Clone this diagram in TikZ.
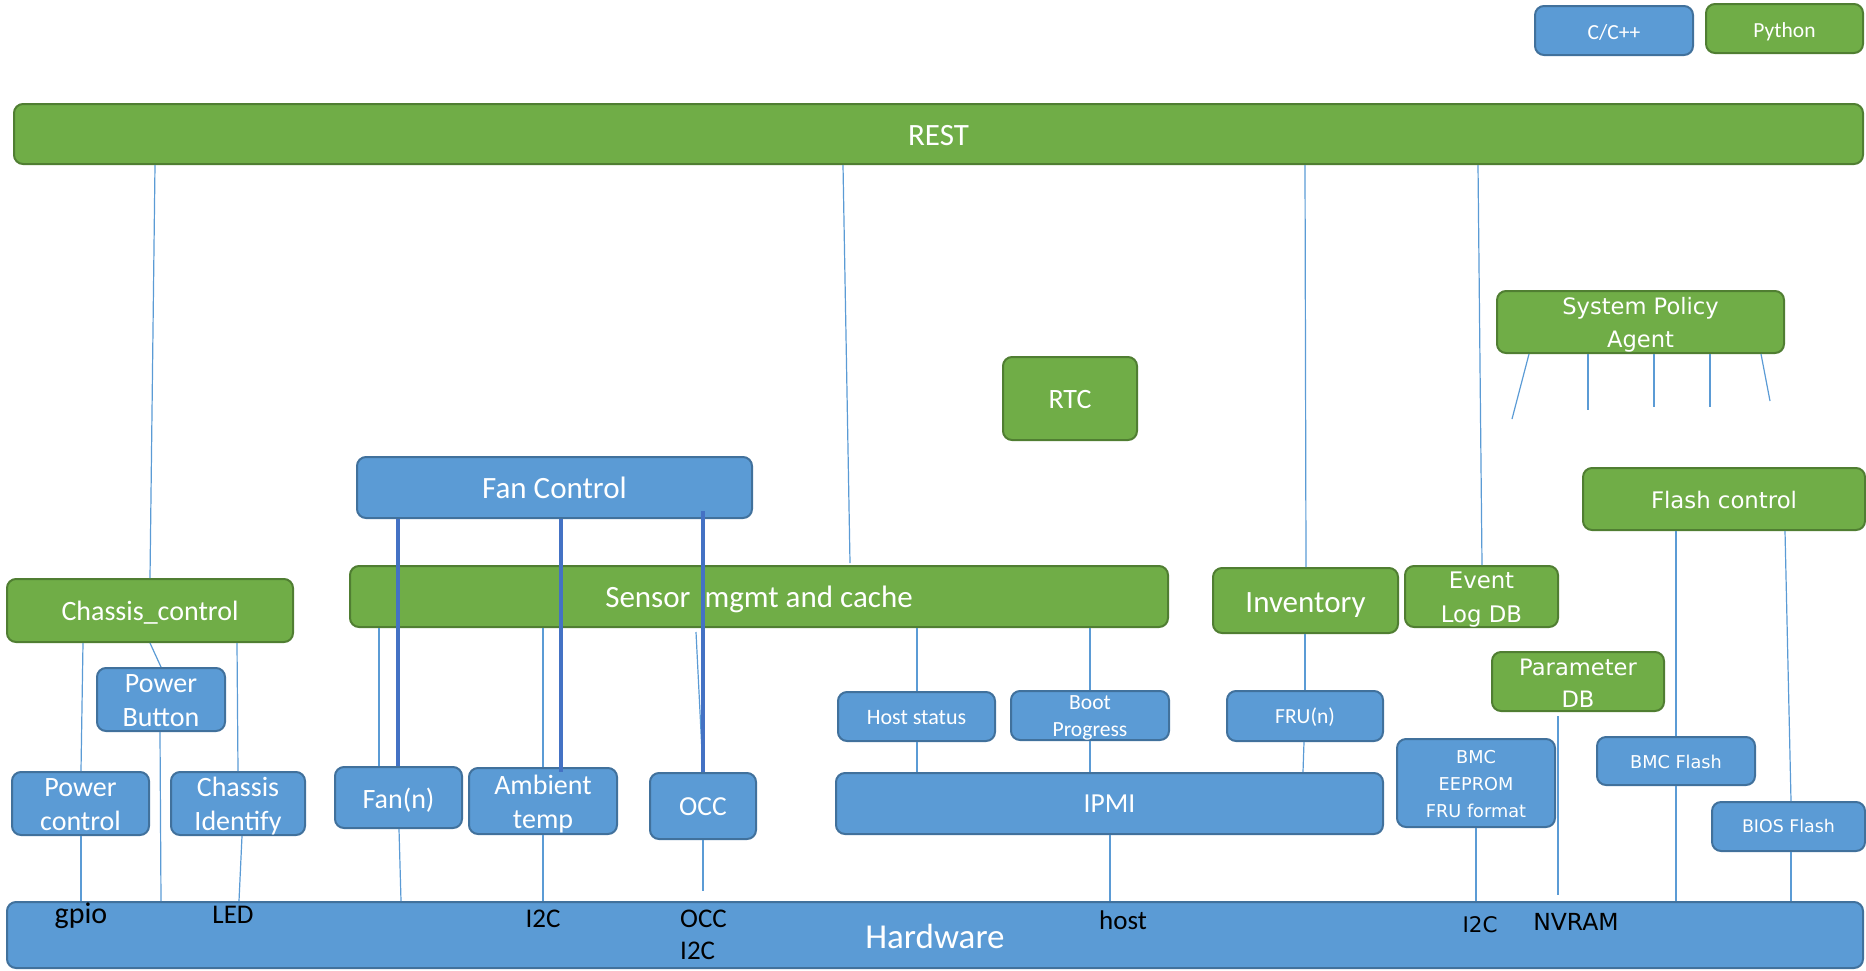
\documentclass[tikz,border=0pt]{standalone}
\usepackage{fontspec}
\setmainfont{Carlito}
\newfontfamily\vfont{DejaVu Sans}
\definecolor{bfill}{HTML}{5B9BD5}
\definecolor{bdraw}{HTML}{41719C}
\definecolor{gfill}{HTML}{70AD47}
\definecolor{gdraw}{HTML}{507E32}
\definecolor{thickc}{HTML}{4472C4}
\newcommand\fsz[2]{\fontsize{#1}{#2}\selectfont}
\tikzset{
 box/.style={rounded corners=9pt, line width=2pt, inner sep=0pt},
 bl/.style={box, fill=bfill, draw=bdraw},
 gr/.style={box, fill=gfill, draw=gdraw},
 tl/.style={text=white, align=center, inner sep=0pt},
 wh/.style 2 args={minimum width=#1pt, minimum height=#2pt},
 conn/.style={draw=bfill, line width=1.2pt},
 thk/.style={draw=thickc, line width=3.2pt},
 hwl/.style={text=black, anchor=base, inner sep=0pt},
}
\begin{document}
\begin{tikzpicture}[x=1pt,y=-1pt]
\useasboundingbox (0,0) rectangle (1866,970);
% legend
\node[bl, wh={158}{49}, label={[tl, yshift=-1.8pt, font=\fsz{21.5}{26}]center:C/C++}] (cpp) at (1614,30.5) {};
\node[gr, wh={157}{49}, label={[tl, yshift=-3pt, font=\fsz{21.5}{26}]center:Python}] (py) at (1784.5,28.5) {};
% top
\node[gr, wh={1849}{60}, label={[tl, yshift=-1.1pt, font=\fsz{31}{37}]center:REST}] (rest) at (938.5,134) {};
\node[gr, wh={134}{83}, label={[tl, yshift=-0.6pt, font=\fsz{28}{34}]center:RTC}] (rtc) at (1070,398.5) {};
\node[gr, wh={287}{62}, label={[tl, yshift=-3pt, font=\vfont\fsz{22.6}{33}]center:{System Policy\\Agent}}] (spa) at (1640.5,322) {};
\node[gr, wh={282}{62}, label={[tl, yshift=-0.6pt, font=\vfont\fsz{22.8}{33}]center:Flash control}] (flash) at (1724,499) {};
\node[gr, wh={153}{61}, label={[tl, yshift=-3pt, font=\vfont\fsz{22.8}{34}]center:{Event\\Log DB}}] (evlog) at (1481.5,596.5) {};
\node[gr, wh={185}{65}, label={[tl, yshift=-5pt, font=\fsz{31}{37}]center:Inventory}] (inv) at (1305.5,600.5) {};
\node[gr, wh={818}{61}, label={[tl, yshift=-3.3pt, font=\fsz{31}{37}]center:Sensor~~mgmt and cache}] (sensor) at (759,596.5) {};
\node[bl, wh={395}{61}, label={[tl, font=\fsz{31}{37}]center:Fan Control}] (fanctl) at (554.5,487.5) {};
\node[gr, wh={286}{63}, label={[tl, yshift=-1.8pt, font=\fsz{28}{34}]center:Chassis\_control}] (chassis) at (150,610.5) {};
\node[bl, wh={128}{63}, label={[tl, yshift=-1pt, font=\fsz{28}{34}]center:{Power\\Button}}] (pbtn) at (161,699.5) {};
\node[bl, wh={137}{63}, label={[tl, yshift=-1pt, font=\fsz{28}{34}]center:{Power\\control}}] (pctl) at (80.5,803.5) {};
\node[bl, wh={134}{63}, label={[tl, yshift=-3pt, font=\fsz{28}{34}]center:{Chassis\\Identify}}] (cid) at (238,803.5) {};
\node[bl, wh={127}{61}, label={[tl, yshift=-2.3pt, font=\fsz{28}{34}]center:Fan(n)}] (fan) at (398.5,797.5) {};
\node[bl, wh={148}{66}, label={[tl, yshift=-3pt, font=\fsz{28}{34}]center:{Ambient\\temp}}] (amb) at (543,801) {};
\node[bl, wh={106}{66}, label={[tl, yshift=-1.1pt, font=\fsz{27.5}{34}]center:OCC}] (occ) at (703,806) {};
\node[bl, wh={157}{49}, label={[tl, yshift=-0.6pt, font=\fsz{22}{27}]center:Host status}] (host) at (916.5,716.5) {};
\node[bl, wh={158}{49}, label={[tl, yshift=-2pt, font=\fsz{21.6}{27}]center:{Boot\\Progress}}] (boot) at (1090,715.5) {};
\node[bl, wh={156}{50}, label={[tl, yshift=-1.5pt, font=\fsz{21.5}{27}]center:FRU(n)}] (fru) at (1305,716) {};
\node[bl, wh={547}{61}, label={[tl, yshift=-0.6pt, font=\fsz{27.5}{34}]center:IPMI}] (ipmi) at (1109.5,803.5) {};
\node[bl, wh={1856}{66}, label={[tl, yshift=-1.4pt, font=\fsz{35}{42}]center:Hardware}] (hw) at (935,935) {};
\node[gr, wh={172}{59}, label={[tl, yshift=-1.5pt, font=\vfont\fsz{22.6}{32}]center:{Parameter\\DB}}] (param) at (1578,681.5) {};
\node[bl, wh={158}{88}, label={[tl, yshift=-1pt, font=\vfont\fsz{17.7}{27}]center:{BMC\\EEPROM\\FRU format}}] (eeprom) at (1476,783) {};
\node[bl, wh={158}{48}, label={[tl, yshift=-0.6pt, font=\vfont\fsz{17.7}{22}]center:BMC Flash}] (bmcf) at (1676,761) {};
\node[bl, wh={153}{49}, label={[tl, yshift=0.6pt, font=\vfont\fsz{17.4}{22}]center:BIOS Flash}] (biosf) at (1788.5,826.5) {};
% hardware labels
\node[hwl, font=\fsz{30}{36}] (lgpio) at (81,923) {gpio};
\node[hwl, font=\fsz{27}{33}] (lled) at (233,923) {LED};
\node[hwl, font=\fsz{27}{33}] (li2ca) at (543,927) {I2C};
\node[hwl, anchor=base west, font=\fsz{27}{33}] (locc) at (680,927) {OCC};
\node[hwl, anchor=base west, font=\fsz{27}{33}] (li2cb) at (680,959) {I2C};
\node[hwl, font=\fsz{27}{33}] (lhost) at (1123,929) {host};
\node[hwl, font=\vfont\fsz{21.5}{26}] (li2cc) at (1480,932) {I2C};
\node[hwl, font=\vfont\fsz{23.5}{28}] (lnv) at (1576,930) {NVRAM};
% free ends
\coordinate (s1) at (1512,419);
\coordinate (s2) at (1588,410);
\coordinate (s3) at (1654,407);
\coordinate (s4) at (1710,407);
\coordinate (s5) at (1770,401);
\coordinate (occtop) at (696,632);
\coordinate (occbot) at (703,891);
\coordinate (partop) at (1558,716);
\coordinate (parbot) at (1558,895);
\coordinate (ambtop) at (561,772);
\coordinate (fcin) at (703,511);
% thin connectors
\draw[conn] (155,0 |- rest.south) -- (150,0 |- chassis.north);
\draw[conn] (843,0 |- rest.south) -- (850,563);
\draw[conn] (1305,0 |- rest.south) -- (1306,0 |- inv.north);
\draw[conn] (1478,0 |- rest.south) -- (1482,0 |- evlog.north);
\draw[conn] (83,0 |- chassis.south) -- (81,0 |- pctl.north);
\draw[conn] (150,0 |- chassis.south) -- (161,0 |- pbtn.north);
\draw[conn] (237,0 |- chassis.south) -- (238,0 |- cid.north);
\draw[conn] (81,0 |- pctl.south) -- (81,0 |- hw.north);
\draw[conn] (160,0 |- pbtn.south) -- (161,0 |- hw.north);
\draw[conn] (242,0 |- cid.south) -- (239,0 |- hw.north);
\draw[conn] (379,0 |- sensor.south) -- (379,0 |- fan.north);
\draw[conn] (399,0 |- fan.south) -- (401,0 |- hw.north);
\draw[conn] (543,0 |- sensor.south) -- (543,0 |- amb.north);
\draw[conn] (543,0 |- amb.south) -- (543,0 |- hw.north);
\draw[conn] (occtop) -- (703,0 |- occ.north);
\draw[conn] (703,0 |- occ.south) -- (occbot);
\draw[conn] (917,0 |- sensor.south) -- (917,0 |- host.north);
\draw[conn] (917,0 |- host.south) -- (917,0 |- ipmi.north);
\draw[conn] (1090,0 |- sensor.south) -- (1090,0 |- boot.north);
\draw[conn] (1090,0 |- boot.south) -- (1090,0 |- ipmi.north);
\draw[conn] (1305,0 |- inv.south) -- (1305,0 |- fru.north);
\draw[conn] (1304,0 |- fru.south) -- (1303,0 |- ipmi.north);
\draw[conn] (1110,0 |- ipmi.south) -- (1110,0 |- hw.north);
\draw[conn] (1476,0 |- eeprom.south) -- (1476,0 |- hw.north);
\draw[conn] (partop) -- (parbot);
\draw[conn] (1676,0 |- flash.south) -- (1676,0 |- bmcf.north);
\draw[conn] (1676,0 |- bmcf.south) -- (1676,0 |- hw.north);
\draw[conn] (1785,0 |- flash.south) -- (1791,0 |- biosf.north);
\draw[conn] (1791,0 |- biosf.south) -- (1791,0 |- hw.north);
\draw[conn] (1529,0 |- spa.south) -- (s1);
\draw[conn] (1588,0 |- spa.south) -- (s2);
\draw[conn] (1654,0 |- spa.south) -- (s3);
\draw[conn] (1710,0 |- spa.south) -- (s4);
\draw[conn] (1761,0 |- spa.south) -- (s5);
% thick connectors
\draw[thk] (398,0 |- fanctl.south) -- (398,0 |- fan.north);
\draw[thk] (561,0 |- fanctl.south) -- (ambtop);
\draw[thk] (fcin) -- (703,0 |- occ.north);
\end{tikzpicture}
\end{document}
